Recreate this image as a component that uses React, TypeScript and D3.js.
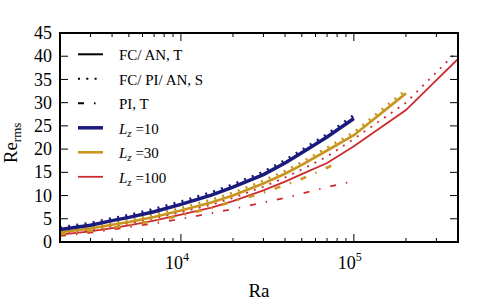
import React from "react";
import * as d3 from "d3";

// Rayleigh numbers at which the runs were sampled
const raLz10 = [2000, 3000, 4000, 5000, 7000, 1e4, 1.5e4, 2e4, 3e4, 4e4, 5e4, 7e4, 1e5];
const raLz30 = [2000, 3000, 4000, 5000, 7000, 1e4, 1.5e4, 2e4, 3e4, 4e4, 5e4, 7e4, 1e5, 2e5];
const raLz100 = [2000, 3000, 4000, 5000, 7000, 1e4, 1.5e4, 2e4, 3e4, 4e4, 5e4, 7e4, 1e5, 2e5, 4e5];
const raPiLz30 = [2000, 3000, 5000, 7000, 1e4, 1.5e4, 2e4, 3e4, 4e4, 5e4, 7e4, 8e4];
const raPiLz100 = [2000, 3000, 5000, 7000, 1e4, 1.5e4, 2e4, 3e4, 4e4, 5e4, 7e4, 1e5];

// Re_rms values
const lz10T = [2.7, 3.6, 4.6, 5.3, 6.5, 8.1, 10.1, 11.8, 14.5, 17.0, 19.2, 22.6, 26.6];
const lz10S = [3.0, 4.0, 5.0, 5.7, 7.0, 8.6, 10.6, 12.3, 15.0, 17.5, 19.7, 23.1, 27.2];
const lz30T = [2.1, 2.9, 3.7, 4.3, 5.4, 6.8, 8.5, 10.0, 12.6, 14.7, 16.6, 19.7, 23.0, 32.0];
const lz30S = [2.4, 3.3, 4.1, 4.8, 5.9, 7.3, 9.1, 10.6, 13.2, 15.3, 17.2, 20.3, 23.6, 32.7];
const lz30PI = [1.7, 2.4, 3.6, 4.5, 5.7, 7.3, 8.7, 10.6, 12.3, 13.6, 16.0, 17.0];
const lz100T = [1.6, 2.3, 3.0, 3.6, 4.6, 5.9, 7.4, 8.8, 11.1, 13.0, 14.6, 17.0, 20.6, 28.4, 39.4];
const lz100S = [1.9, 2.7, 3.4, 4.0, 5.1, 6.4, 8.0, 9.5, 11.9, 13.9, 15.6, 18.4, 22.2, 30.0, 41.2];
const lz100PI = [1.3, 2.0, 3.2, 4.0, 5.0, 6.2, 7.1, 8.5, 9.5, 10.4, 11.8, 13.1];

const yTicks = [0, 5, 10, 15, 20, 25, 30, 35, 40, 45];
const xMajor = [1e4, 1e5];
const xMinor = [3000, 4000, 5000, 6000, 7000, 8000, 9000, 2e4, 3e4, 4e4, 5e4, 6e4, 7e4, 8e4, 9e4, 2e5, 3e5];

const BLUE = "#1b1b7d";
const GOLD = "#c8961e";
const RED = "#cc2a2e";

const styles = {
  T: "none",
  S: "2,6.3",
  PI: "6,10,1.5,10",
};

const series = [
  { ra: raLz100, v: lz100T, color: RED, w: 1.8, dash: styles.T },
  { ra: raLz100, v: lz100S, color: RED, w: 1.8, dash: styles.S },
  { ra: raPiLz100, v: lz100PI, color: RED, w: 1.8, dash: styles.PI },
  { ra: raLz30, v: lz30T, color: GOLD, w: 2.6, dash: styles.T },
  { ra: raLz30, v: lz30S, color: GOLD, w: 2.6, dash: styles.S },
  { ra: raPiLz30, v: lz30PI, color: GOLD, w: 2.6, dash: styles.PI },
  { ra: raLz10, v: lz10T, color: BLUE, w: 3.5, dash: styles.T },
  { ra: raLz10, v: lz10S, color: BLUE, w: 3.5, dash: styles.S },
];

const legendItems = [
  { label: "FC/ AN, T", color: "#000", w: 2, dash: styles.T },
  { label: "FC/ PI/ AN, S", color: "#000", w: 2, dash: styles.S },
  { label: "PI, T", color: "#000", w: 2, dash: styles.PI },
  { lz: "10", color: BLUE, w: 3.5, dash: styles.T },
  { lz: "30", color: GOLD, w: 2.6, dash: styles.T },
  { lz: "100", color: RED, w: 1.8, dash: styles.T },
];

const width = 491;
const height = 302;
const margin = { top: 33, right: 33, bottom: 60, left: 60 };
const font = "Liberation Serif, DejaVu Serif, serif";

export default function App() {
  const x = d3.scaleLog().domain([2000, 4e5]).range([margin.left, width - margin.right]);
  const y = d3.scaleLinear().domain([0, 45]).range([height - margin.bottom, margin.top]);
  const x0 = x.range()[0];
  const x1 = x.range()[1];
  const y0 = y.range()[0];
  const y1 = y.range()[1];

  const line = d3
    .line<[number, number]>()
    .x((d) => x(d[0]))
    .y((d) => y(d[1]));

  return (
    <svg
      width={width}
      height={height}
      fontFamily={font}
      style={{ position: "absolute", left: 0, top: 0 }}
    >
      <rect width={width} height={height} fill="#fff" />
      <defs>
        <clipPath id="plot">
          <rect x={x0} y={y1} width={x1 - x0} height={y0 - y1} />
        </clipPath>
      </defs>

      <g clipPath="url(#plot)">
        {series.map((s, i) => (
          <path
            key={i}
            d={line(s.ra.map((r, j) => [r, s.v[j]] as [number, number])) || ""}
            fill="none"
            stroke={s.color}
            strokeWidth={s.w}
            strokeDasharray={s.dash}
          />
        ))}
      </g>

      {/* ticks, inward on all sides */}
      <g stroke="#000" strokeWidth={1}>
        {xMajor.map((t) => (
          <g key={"M" + t}>
            <line x1={x(t)} x2={x(t)} y1={y0} y2={y0 - 8} />
            <line x1={x(t)} x2={x(t)} y1={y1} y2={y1 + 8} />
          </g>
        ))}
        {xMinor.map((t) => (
          <g key={"m" + t}>
            <line x1={x(t)} x2={x(t)} y1={y0} y2={y0 - 4} />
            <line x1={x(t)} x2={x(t)} y1={y1} y2={y1 + 4} />
          </g>
        ))}
        {yTicks.map((t) => (
          <g key={"y" + t}>
            <line x1={x0} x2={x0 + 8} y1={y(t)} y2={y(t)} />
            <line x1={x1} x2={x1 - 8} y1={y(t)} y2={y(t)} />
          </g>
        ))}
      </g>

      <rect x={x0} y={y1} width={x1 - x0} height={y0 - y1} fill="none" stroke="#000" strokeWidth={2} />

      {/* tick labels */}
      {yTicks.map((t) => (
        <text key={"yl" + t} x={x0 - 8} y={y(t)} dy="0.34em" textAnchor="end" fontSize={18} fontFamily={font}>
          {t}
        </text>
      ))}
      {xMajor.map((t) => (
        <text key={"xl" + t} x={x(t) - 4} y={269} textAnchor="middle" fontSize={18} fontFamily={font}>
          10
          <tspan fontSize={12} dy={-8}>
            {Math.round(Math.log10(t))}
          </tspan>
        </text>
      ))}

      {/* axis labels */}
      <text x={(x0 + x1) / 2} y={297} textAnchor="middle" fontSize={19} fontFamily={font}>
        Ra
      </text>
      <text transform="translate(17,143) rotate(-90)" textAnchor="middle" fontSize={19} fontFamily={font}>
        Re
        <tspan fontSize={13} dy={4}>
          rms
        </tspan>
      </text>

      {/* legend */}
      {legendItems.map((it, i) => {
        const ly = 54.3 + i * 24.5;
        return (
          <g key={"lg" + i}>
            <line x1={78} x2={103} y1={ly} y2={ly} stroke={it.color} strokeWidth={it.w} strokeDasharray={it.dash} />
            <text x={119} y={ly + 5.7} fontSize={15} fontFamily={font}>
              {it.label ? (
                it.label
              ) : (
                <>
                  <tspan fontStyle="italic">L</tspan>
                  <tspan fontStyle="italic" fontSize={11} dy={3}>
                    z
                  </tspan>
                  <tspan dy={-3}>{" =" + it.lz}</tspan>
                </>
              )}
            </text>
          </g>
        );
      })}
    </svg>
  );
}
